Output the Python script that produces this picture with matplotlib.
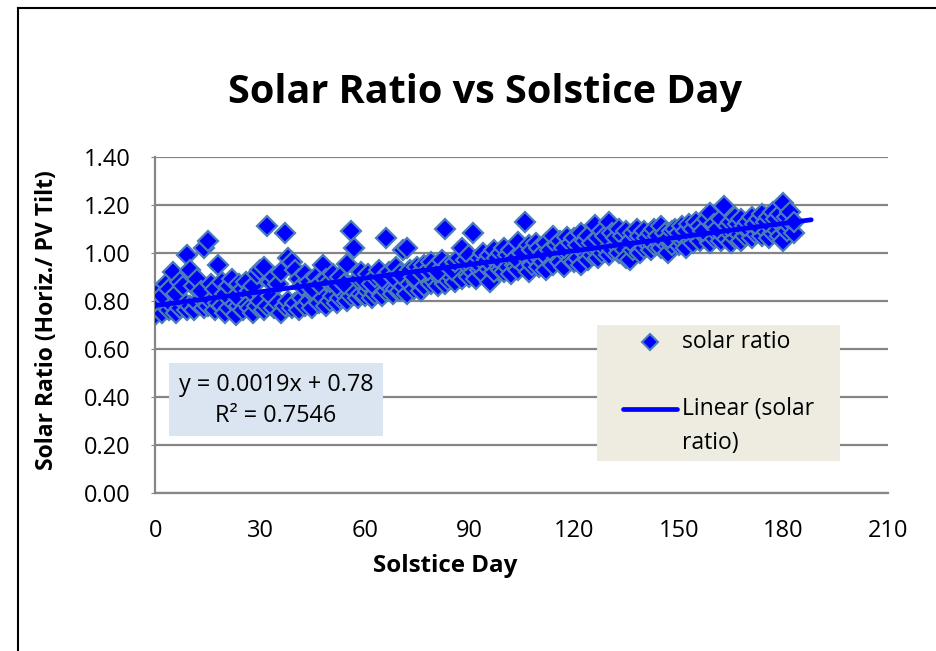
import matplotlib
matplotlib.use("Agg")
import matplotlib.pyplot as plt
from matplotlib.patches import Rectangle
from matplotlib.lines import Line2D
import numpy as np

plt.rcParams['font.family'] = ['Open Sans', 'DejaVu Sans']

# Solar ratio (Horiz./PV tilt) per solstice day, two readings per day
ratio_a = [
    0.74, 0.77, 0.75, 0.79, 0.76, 0.78, 0.75, 0.77, 0.80, 0.76,
    0.78, 0.76, 0.79, 0.81, 0.77, 0.78, 0.80, 0.76, 0.79, 0.78,
    0.75, 0.77, 0.80, 0.74, 0.78, 0.76, 0.79, 0.77, 0.75, 0.78,
    0.80, 0.76, 0.78, 0.82, 0.77, 0.79, 0.75, 0.78, 0.80, 0.77,
    0.79, 0.76, 0.81, 0.78, 0.80, 0.77, 0.82, 0.79, 0.81, 0.78,
    0.80, 0.82, 0.79, 0.81, 0.83, 0.80, 0.82, 0.84, 0.81, 0.83,
    0.82, 0.84, 0.81, 0.83, 0.85, 0.82, 0.84, 0.86, 0.83, 0.85,
    0.84, 0.86, 0.83, 0.87, 0.85, 0.88, 0.84, 0.86, 0.89, 0.87,
    0.88, 0.86, 0.89, 0.87, 0.885, 0.90, 0.88, 0.91, 0.89, 0.92,
    0.90, 0.92, 0.89, 0.93, 0.91, 0.94, 0.88, 0.92, 0.95, 0.93,
    0.92, 0.94, 0.91, 0.95, 0.93, 0.96, 0.94, 0.92, 0.95, 0.97,
    0.94, 0.96, 0.93, 0.97, 0.95, 0.98, 0.96, 0.94, 0.99, 0.97,
    0.96, 0.98, 0.95, 1.00, 0.97, 0.99, 1.01, 0.98, 1.00, 1.02,
    0.99, 1.01, 1.03, 1.00, 1.02, 0.98, 0.97, 1.01, 1.03, 1.00,
    1.02, 1.04, 1.01, 1.03, 1.05, 1.02, 1.04, 1.00, 1.03, 1.05,
    1.03, 1.05, 1.02, 1.06, 1.04, 1.07, 1.05, 1.08, 1.06, 1.04,
    1.06, 1.08, 1.05, 1.07, 1.09, 1.04, 1.06, 1.08, 1.05, 1.07,
    1.09, 1.06, 1.08, 1.10, 1.07, 1.09, 1.06, 1.08, 1.10, 1.07,
    1.05, 1.09, 1.11, 1.08,
]
ratio_b = [
    0.80, 0.84, 0.82, 0.87, 0.85, 0.92, 0.83, 0.88, 0.86, 0.99,
    0.93, 0.86, 0.89, 0.84, 1.02, 1.05, 0.87, 0.85, 0.95, 0.88,
    0.83, 0.86, 0.89, 0.82, 0.87, 0.85, 0.88, 0.84, 0.86, 0.91,
    0.93, 0.94, 1.11, 0.88, 0.90, 0.87, 0.92, 1.08, 0.98, 0.96,
    0.93, 0.89, 0.86, 0.91, 0.88, 0.85, 0.90, 0.87, 0.95, 0.89,
    0.88, 0.91, 0.86, 0.90, 0.87, 0.955, 1.09, 1.02, 0.89, 0.92,
    0.88, 0.91, 0.87, 0.90, 0.93, 0.89, 1.06, 0.92, 0.90, 0.94,
    0.91, 1.01, 1.02, 0.93, 0.90, 0.94, 0.92, 0.95, 0.93, 0.96,
    0.94, 0.92, 0.97, 1.10, 0.95, 0.93, 0.96, 0.98, 1.02, 0.97,
    0.99, 1.08, 0.96, 0.98, 1.00, 0.97, 0.99, 1.01, 0.98, 1.00,
    1.02, 0.99, 1.01, 0.98, 1.045, 1.00, 1.13, 1.03, 1.01, 1.04,
    1.02, 1.00, 1.04, 1.01, 1.07, 1.03, 1.05, 1.02, 1.065, 1.04,
    1.06, 1.03, 1.08, 1.05, 1.07, 1.04, 1.115, 1.06, 1.09, 1.07,
    1.13, 1.08, 1.06, 1.10, 1.07, 1.09, 1.05, 1.08, 1.10, 1.07,
    1.09, 1.06, 1.08, 1.10, 1.07, 1.11, 1.08, 1.06, 1.09, 1.10,
    1.08, 1.11, 1.09, 1.12, 1.10, 1.13, 1.11, 1.09, 1.14, 1.165,
    1.12, 1.10, 1.14, 1.195, 1.11, 1.13, 1.15, 1.12, 1.14, 1.11,
    1.13, 1.15, 1.12, 1.14, 1.16, 1.13, 1.15, 1.17, 1.14, 1.16,
    1.205, 1.15, 1.17, 1.13,
]
days = np.arange(len(ratio_a))

trend_slope = 0.0019
trend_intercept = 0.78
trend_span = [0, 188]
equation_lines = ["y = 0.0019x + 0.78", "R² = 0.7546"]
x_ticks = [0, 30, 60, 90, 120, 150, 180, 210]
y_ticks = [0.0, 0.2, 0.4, 0.6, 0.8, 1.0, 1.2, 1.4]

W, H = 937, 651
fig = plt.figure(figsize=(W / 100, H / 100), dpi=100)


def fx(px):
    return px / W


def fy(py):
    return 1 - py / H


ax = fig.add_axes([fx(155.5), fy(492.7), fx(888) - fx(155.5), fy(156.7) - fy(492.7)])
ax.set_xlim(0, 210)
ax.set_ylim(0, 1.4)
ax.set_xticks(x_ticks)
ax.set_yticks(y_ticks)
ax.set_yticklabels([f"{v:.2f}" for v in y_ticks])
grid_c = '#868686'
ax.grid(axis='y', color=grid_c, linewidth=1.6)
ax.set_axisbelow(True)
for s in ['top', 'right']:
    ax.spines[s].set_visible(False)
for s in ['left', 'bottom']:
    ax.spines[s].set_color(grid_c)
    ax.spines[s].set_linewidth(1.6)
ax.tick_params(axis='x', length=0, pad=19, labelsize=17)
ax.tick_params(axis='y', length=3, color=grid_c, pad=15, labelsize=17)

mk = dict(marker='D', linestyle='none', markersize=10.3, markerfacecolor='#0000FF',
          markeredgecolor='#4A7EBB', markeredgewidth=1.6)
ax.plot(days, ratio_a, **mk, zorder=3)
ax.plot(days, ratio_b, **mk, zorder=3)

tx = np.array(trend_span, dtype=float)
ax.plot(tx, trend_slope * tx + trend_intercept, color='#0000FF', linewidth=3.4,
        solid_capstyle='round', zorder=4)

fig.text(fx(445), fy(566), "Solstice Day", fontsize=17.4, fontweight='bold',
         ha='center', va='center')
fig.text(fx(47), fy(320), "Solar Ratio (Horiz./ PV Tilt)", rotation=90, fontsize=16.5,
         fontweight='bold', ha='center', va='center')

fig.text(fx(485), fy(92), "Solar Ratio vs Solstice Day", fontsize=28.5, fontweight='bold',
         ha='center', va='center')

# equation box
fig.patches.append(Rectangle((fx(169), fy(436)), fx(383) - fx(169), fy(363) - fy(436),
                             transform=fig.transFigure, facecolor='#DBE5F1', edgecolor='none',
                             zorder=5))
fig.text(fx(276), fy(385), equation_lines[0], fontsize=16.8, ha='center', va='center', zorder=6)
fig.text(fx(276), fy(416), equation_lines[1], fontsize=16.8, ha='center', va='center', zorder=6)

# legend box
fig.patches.append(Rectangle((fx(597), fy(461)), fx(840) - fx(597), fy(325) - fy(461),
                             transform=fig.transFigure, facecolor='#EEECE1', edgecolor='none',
                             zorder=5))
fig.lines.append(Line2D([fx(650)], [fy(342)], transform=fig.transFigure, zorder=6,
                        marker='D', markersize=8.6, markerfacecolor='#0000FF',
                        markeredgecolor='#4A7EBB', markeredgewidth=1.5))
fig.text(fx(682), fy(342), "solar ratio", fontsize=16.5, ha='left', va='center', zorder=6)
fig.lines.append(Line2D([fx(623), fx(677)], [fy(409), fy(409)], transform=fig.transFigure,
                        color='#0000FF', linewidth=3.4, solid_capstyle='round', zorder=6))
fig.text(fx(682), fy(409), "Linear (solar", fontsize=16.5, ha='left', va='center', zorder=6)
fig.text(fx(682), fy(443), "ratio)", fontsize=16.5, ha='left', va='center', zorder=6)

# outer chart frame
fig.lines.append(Line2D([fx(18), fx(18)], [0, fy(8)], transform=fig.transFigure,
                        color='black', linewidth=1.5))
fig.lines.append(Line2D([fx(18), 1], [fy(8), fy(8)], transform=fig.transFigure,
                        color='black', linewidth=1.5))

fig.savefig("out.png", dpi=100)
